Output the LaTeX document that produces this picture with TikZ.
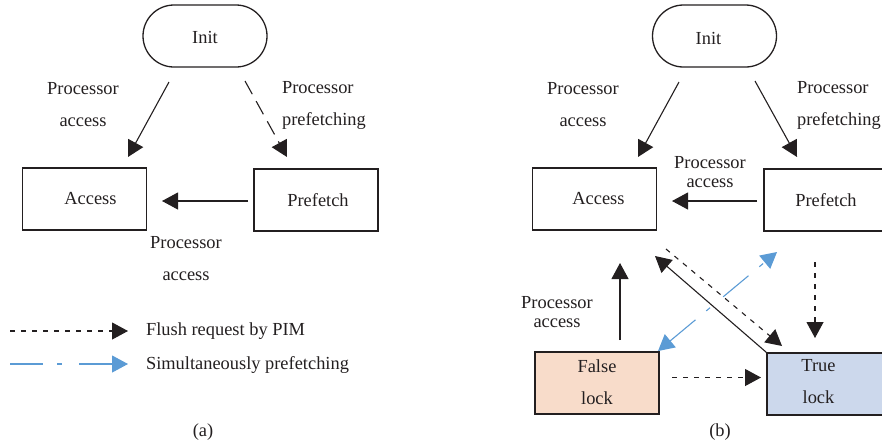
\documentclass[tikz,border=0pt]{standalone}
\usepackage{fontspec}
\setmainfont{Liberation Serif}
\usetikzlibrary{arrows.meta}
\definecolor{linec}{HTML}{231F20}
\definecolor{peach}{HTML}{F8DCCA}
\definecolor{paleblue}{HTML}{CCD8EC}
\definecolor{arrblue}{HTML}{5B9BD5}
\begin{document}
\begin{tikzpicture}[x=0.5pt,y=-0.5pt,
  font=\fontsize{9.2}{11}\selectfont, text=linec,
  box/.style={draw=linec, line width=0.65pt, minimum width=62pt, minimum height=31pt, inner sep=0pt},
  stadium/.style={box, rounded corners=15.5pt},
  lbl/.style={align=center, font=\fontsize{9.2}{16}\selectfont},
  lbltight/.style={align=center, font=\fontsize{9.2}{9.6}\selectfont},
  arr/.style={draw=linec, line width=0.55pt, -{Triangle[length=8pt,width=8.5pt]}},
  longdash/.style={dash pattern=on 7.5pt off 4pt},
  shortdash/.style={dash pattern=on 2.5pt off 3pt},
  bluearr/.style={draw=arrblue, line width=0.55pt, dash pattern=on 16.5pt off 7pt on 2.5pt off 8.5pt}
]
\useasboundingbox (0,0) rectangle (882,446);
\clip (0,0) rectangle (882,446);

% ---------------- panel (a) ----------------
\node[stadium, label={[yshift=-0.5pt]center:Init}] (initA) at (205,36) {};
\node[box, label={[xshift=3pt]center:Access}] (accA) at (84.5,199) {};
\node[box, label={[xshift=1pt]center:Prefetch}] (preA) at (316,200) {};

\coordinate (a1s) at (169,82);  \coordinate (a1e) at (128,157);
\coordinate (a2s) at (245,81);  \coordinate (a2e) at (287,157);
\coordinate (a3s) at (248,201); \coordinate (a3e) at (162,201);
\draw[arr] (a1s) -- (a1e);
\draw[arr, longdash] (a2s) -- (a2e);
\draw[arr] (a3s) -- (a3e);

\node[lbl] (la1) at (83,105) {Processor\\access};
\node[lbl, anchor=west, align=left] (la2) at (275,105) {Processor\\prefetching};
\node[lbl] (la3) at (186,259) {Processor\\access};

% legend
\coordinate (lg1s) at (10,331);  \coordinate (lg1e) at (128,331);
\coordinate (lg2s) at (10,364);  \coordinate (lg2e) at (128,364);
\draw[arr, shortdash] (lg1s) -- (lg1e);
\draw[bluearr, -{Triangle[length=8pt,width=8.5pt,fill=arrblue]}] (lg2s) -- (lg2e);
\node[anchor=west] (lgt1) at (139,331) {Flush request by PIM};
\node[anchor=west] (lgt2) at (139,365) {Simultaneously prefetching};

\node (capA) at (203,432) {(a)};

% ---------------- panel (b) ----------------
\node[stadium, label={[xshift=-3pt,yshift=-1pt]center:Init}] (initB) at (714.5,36) {};
\node[box, label={[xshift=2pt]center:Access}] (accB) at (594.5,199) {};
\node[box, label={[xshift=0pt]center:Prefetch}] (preB) at (826,200) {};
\node[box, fill=peach] (falseB) at (597,383) {};
\node[lbl] (falseT) at (597,382.5) {False\\lock};
\node[box, fill=paleblue] (trueB) at (829,384) {};
\node[lbl] (trueT) at (818.5,382) {True\\lock};

\coordinate (b1s) at (679,82);  \coordinate (b1e) at (638,157);
\coordinate (b2s) at (755,81);  \coordinate (b2e) at (797,157);
\coordinate (b3s) at (757,201); \coordinate (b3e) at (672,201);
\coordinate (b4s) at (620,340); \coordinate (b4e) at (620,263);
\coordinate (b5e) at (655,256);
\coordinate (b6s) at (666,249); \coordinate (b6e) at (782,346);
\coordinate (b7s) at (815,262); \coordinate (b7e) at (815,338);
\coordinate (b8s) at (672,377.5); \coordinate (b8e) at (761,377.5);
\coordinate (b9s) at (658,351); \coordinate (b9e) at (777,252);

\draw[arr] (b1s) -- (b1e);
\draw[arr] (b2s) -- (b2e);
\draw[arr] (b3s) -- (b3e);
\draw[arr] (b4s) -- (b4e);
\draw[arr] (trueB.north west) -- (b5e);
\draw[arr, shortdash] (b6s) -- (b6e);
\draw[arr, shortdash] (b7s) -- (b7e);
\draw[arr, shortdash] (b8s) -- (b8e);
\draw[bluearr, {Triangle[length=8pt,width=8.5pt,fill=arrblue]}-{Triangle[length=8pt,width=8.5pt,fill=arrblue]}] (b9s) -- (b9e);

\node[lbl] (lb1) at (583,105) {Processor\\access};
\node[lbl, anchor=west, align=left] (lb2) at (790,105) {Processor\\prefetching};
\node[lbltight] (lb3) at (710,172) {Processor\\access};
\node[lbltight] (lb4) at (557,312) {Processor\\access};

\node (capB) at (720,432) {(b)};
\end{tikzpicture}
\end{document}
